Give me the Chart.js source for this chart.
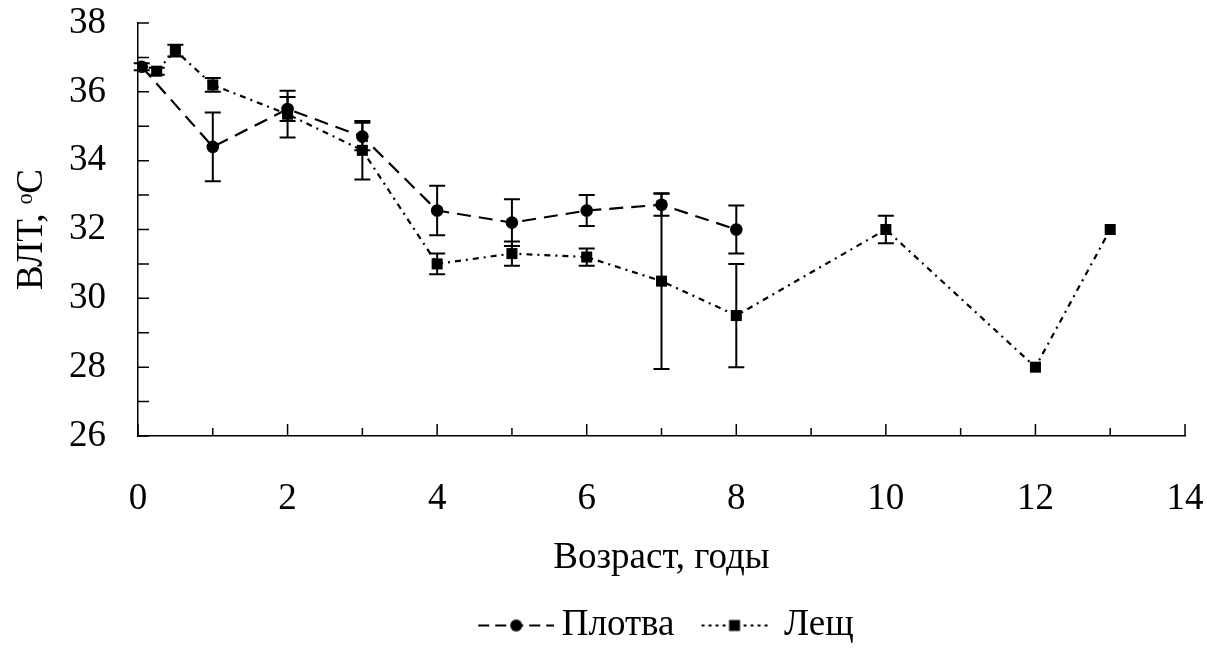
<!DOCTYPE html>
<html lang="ru">
<head>
    <meta charset="UTF-8">
    <title>ВЛТ по возрасту</title>
    <script src="https://cdn.jsdelivr.net/npm/chart.js"></script>
    <style>
        body { margin: 0; background: #fff; }
    </style>
</head>
<body>
    <canvas id="chart" width="1207" height="654"></canvas>
    <script>
        // Плотва (roach)
        const plotvaAge = [0.05, 1, 2, 3, 4, 5, 6, 7, 8];
        const plotvaTemp = [36.73, 34.4, 35.5, 34.7, 32.55, 32.2, 32.55, 32.72, 32.0];
        const plotvaErr = [0.1, 1.0, 0.35, 0.4, 0.72, 0.68, 0.45, 0.32, 0.7];

        // Лещ (bream)
        const leshchAge = [0.25, 0.5, 1, 2, 3, 4, 5, 6, 7, 8, 10, 12, 13];
        const leshchTemp = [36.6, 37.2, 36.2, 35.35, 34.3, 31.0, 31.3, 31.2, 30.5, 29.5, 32.0, 28.0, 32.0];
        const leshchErr = [0.1, 0.17, 0.2, 0.68, 0.85, 0.3, 0.35, 0.25, 2.55, 1.5, 0.4, 0, 0];

        const FONT = 'Liberation Serif';
        const FS = 37;

        function toPoints(xs, ys) {
            return xs.map((x, i) => ({ x: x, y: ys[i] }));
        }

        // legend symbol: line with marker, placed near the right end of the canvas
        function legendIcon(dash, marker, len, rightGap) {
            const W = 96;
            const c = document.createElement('canvas');
            c.width = W;
            c.height = 16;
            const g = c.getContext('2d');
            const x1 = W - rightGap;
            const x0 = x1 - len;
            g.strokeStyle = '#000';
            g.lineWidth = 2;
            g.setLineDash(dash);
            g.beginPath();
            g.moveTo(x0, 8);
            g.lineTo(x1, 8);
            g.stroke();
            g.fillStyle = '#000';
            const mid = x0 + len / 2;
            if (marker === 'circle') {
                g.beginPath();
                g.arc(mid, 8, 6, 0, Math.PI * 2);
                g.fill();
            } else {
                g.fillRect(mid - 5.5, 2.5, 11, 11);
            }
            return c;
        }

        // error bars drawn through the y scale
        const errorBars = {
            id: 'errorBars',
            afterDatasetsDraw(chart) {
                const ctx = chart.ctx;
                const yScale = chart.scales.y;
                chart.data.datasets.forEach((ds, di) => {
                    const meta = chart.getDatasetMeta(di);
                    ctx.save();
                    ctx.strokeStyle = '#000';
                    ctx.lineWidth = 2;
                    meta.data.forEach((pt, i) => {
                        const e = ds.errors[i];
                        if (!e) return;
                        const v = ds.data[i].y;
                        const top = yScale.getPixelForValue(v + e);
                        const bot = yScale.getPixelForValue(v - e);
                        ctx.beginPath();
                        ctx.moveTo(pt.x, top);
                        ctx.lineTo(pt.x, bot);
                        ctx.moveTo(pt.x - 8, top);
                        ctx.lineTo(pt.x + 8, top);
                        ctx.moveTo(pt.x - 8, bot);
                        ctx.lineTo(pt.x + 8, bot);
                        ctx.stroke();
                    });
                    ctx.restore();
                });
            }
        };

        // tick marks pointing into the plot area
        const innerTicks = {
            id: 'innerTicks',
            afterDraw(chart) {
                const ctx = chart.ctx;
                const xs = chart.scales.x, ys = chart.scales.y;
                const area = chart.chartArea;
                ctx.save();
                ctx.strokeStyle = '#000';
                ctx.lineWidth = 1.5;
                ctx.beginPath();
                for (let v = ys.min; v <= ys.max; v++) {
                    const p = ys.getPixelForValue(v);
                    ctx.moveTo(area.left, p);
                    ctx.lineTo(area.left + 11, p);
                }
                for (let v = xs.min; v <= xs.max; v++) {
                    const p = xs.getPixelForValue(v);
                    const len = v % 2 === 0 ? 12 : 8;
                    ctx.moveTo(p, area.bottom);
                    ctx.lineTo(p, area.bottom - len);
                }
                ctx.stroke();
                ctx.restore();
            }
        };

        new Chart(document.getElementById('chart'), {
            type: 'line',
            data: {
                datasets: [{
                    label: 'Плотва',
                    data: toPoints(plotvaAge, plotvaTemp),
                    errors: plotvaErr,
                    borderColor: '#000',
                    backgroundColor: '#000',
                    borderWidth: 2.2,
                    borderDash: [14, 8],
                    pointStyle: 'circle',
                    pointRadius: 6.3,
                    pointBorderWidth: 0,
                    tension: 0,
                    legendIcon: legendIcon([11, 6], 'circle', 76, 0)
                }, {
                    label: 'Лещ',
                    data: toPoints(leshchAge, leshchTemp),
                    errors: leshchErr,
                    borderColor: '#000',
                    backgroundColor: '#000',
                    borderWidth: 2.2,
                    borderDash: [6, 5, 2, 5],
                    pointStyle: 'rect',
                    pointRadius: 7.8,
                    pointBorderWidth: 0,
                    tension: 0,
                    legendIcon: legendIcon([3, 4], 'rect', 66, 9)
                }]
            },
            options: {
                responsive: false,
                animation: false,
                layout: { padding: { left: 0, right: 22, top: 23, bottom: 0 } },
                plugins: {
                    tooltip: { enabled: false },
                    legend: {
                        position: 'bottom',
                        fullSize: false,
                        labels: {
                            color: '#000',
                            font: { family: FONT, size: FS },
                            usePointStyle: true,
                            pointStyleWidth: 74,
                            padding: 17,
                            generateLabels(chart) {
                                return chart.data.datasets.map((ds, i) => ({
                                    text: ds.label,
                                    pointStyle: ds.legendIcon,
                                    fontColor: '#000',
                                    datasetIndex: i,
                                    lineWidth: 0
                                }));
                            }
                        }
                    }
                },
                scales: {
                    x: {
                        type: 'linear',
                        min: 0,
                        max: 14,
                        grid: { display: false },
                        border: { display: true, color: '#000', width: 1.5 },
                        ticks: {
                            stepSize: 2,
                            color: '#000',
                            padding: 33,
                            maxRotation: 0,
                            font: { family: FONT, size: FS }
                        },
                        title: {
                            display: true,
                            text: 'Возраст, годы',
                            color: '#000',
                            font: { family: FONT, size: FS },
                            padding: { top: 20, bottom: 10 }
                        },
                        afterFit(scale) {
                            scale.height = 154;
                            scale.paddingLeft = 0;
                            scale.paddingRight = 0;
                        }
                    },
                    y: {
                        min: 26,
                        max: 38,
                        grid: { display: false },
                        border: { display: true, color: '#000', width: 1.5 },
                        ticks: {
                            stepSize: 2,
                            color: '#000',
                            padding: 24,
                            font: { family: FONT, size: FS }
                        },
                        title: {
                            display: true,
                            text: 'ВЛТ, ᵒC',
                            color: '#000',
                            font: { family: FONT, size: FS },
                            padding: { top: 10, bottom: 10 }
                        },
                        afterFit(scale) {
                            scale.width = 138;
                            scale.paddingTop = 0;
                            scale.paddingBottom = 0;
                        }
                    }
                }
            },
            plugins: [errorBars, innerTicks]
        });
    </script>
</body>
</html>
